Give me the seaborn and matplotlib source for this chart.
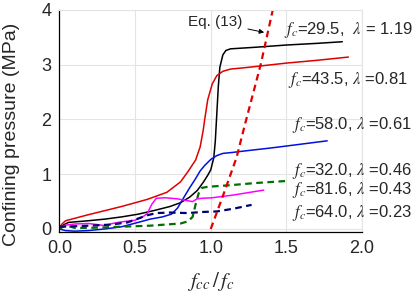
import pandas as pd
import matplotlib
matplotlib.use("Agg")
import matplotlib.pyplot as plt
from matplotlib.ticker import MultipleLocator, AutoMinorLocator, FormatStrFormatter
import seaborn as sns

# data (x = fcc/fc, y = confining pressure in MPa)
x_295 = [0, 0.03, 0.06, 0.19, 0.30, 0.41, 0.52, 0.63, 0.73, 0.80, 0.86, 0.91, 0.95, 0.98, 1.00,
         1.02, 1.03, 1.04, 1.05, 1.06, 1.08, 1.10, 1.13, 1.30, 1.50, 1.70, 1.87]
y_295 = [0.00, 0.08, 0.12, 0.15, 0.18, 0.22, 0.27, 0.34, 0.41, 0.48, 0.58, 0.70, 0.85, 0.98, 1.08,
         1.30, 1.60, 2.10, 2.60, 2.95, 3.18, 3.26, 3.29, 3.32, 3.36, 3.39, 3.42]

x_435 = [0, 0.02, 0.04, 0.19, 0.41, 0.58, 0.71, 0.80, 0.85, 0.90, 0.93, 0.95, 0.96, 0.98, 1.01,
         1.04, 1.08, 1.13, 1.24, 1.50, 1.70, 1.91]
y_435 = [0.03, 0.10, 0.15, 0.26, 0.41, 0.54, 0.67, 0.86, 1.05, 1.26, 1.50, 1.80, 2.00, 2.36, 2.65,
         2.80, 2.88, 2.92, 2.95, 3.03, 3.08, 3.14]

x_580 = [0, 0.04, 0.10, 0.19, 0.30, 0.41, 0.52, 0.60, 0.68, 0.74, 0.78, 0.81, 0.86, 0.90, 0.93,
         0.96, 1.00, 1.04, 1.08, 1.15, 1.24, 1.40, 1.60, 1.77]
y_580 = [0.00, -0.03, -0.04, -0.03, 0.00, 0.04, 0.12, 0.18, 0.22, 0.27, 0.38, 0.52, 0.75, 0.92, 1.06,
         1.16, 1.27, 1.34, 1.38, 1.40, 1.43, 1.48, 1.55, 1.61]

x_816 = [0, 0.04, 0.10, 0.19, 0.25, 0.30, 0.35, 0.41, 0.50, 0.55, 0.58, 0.61, 0.64, 0.70, 0.78,
         0.84, 0.88, 0.91, 0.94, 1.01, 1.15, 1.35]
y_816 = [0.02, 0.07, 0.09, 0.10, 0.08, 0.06, 0.10, 0.13, 0.16, 0.22, 0.28, 0.45, 0.56, 0.57, 0.55,
         0.52, 0.50, 0.55, 0.56, 0.57, 0.62, 0.71]

x_320 = [0, 0.04, 0.10, 0.20, 0.40, 0.60, 0.80, 0.85, 0.88, 0.90, 0.92, 0.94, 0.98, 1.13, 1.30, 1.52]
y_320 = [0.00, 0.07, 0.02, 0.02, 0.04, 0.06, 0.10, 0.14, 0.22, 0.45, 0.65, 0.75, 0.77, 0.80, 0.84, 0.88]

x_640 = [0, 0.10, 0.20, 0.34, 0.45, 0.50, 0.58, 0.64, 0.73, 0.85, 0.94, 1.04, 1.15, 1.27]
y_640 = [0.04, 0.05, 0.06, 0.08, 0.12, 0.17, 0.25, 0.29, 0.30, 0.29, 0.31, 0.32, 0.37, 0.44]

x_eq = [1.00, 1.08, 1.17, 1.23, 1.33, 1.41]
y_eq = [0.00, 0.60, 1.30, 1.95, 3.00, 4.00]

labels = [r"$f_c$=29.5,  $\lambda$ = 1.19", r"$f_c$=43.5, $\lambda$ =0.81",
          r"$f_c$=58.0, $\lambda$ =0.61", r"$f_c$=32.0, $\lambda$ =0.46",
          r"$f_c$=81.6, $\lambda$ =0.43", r"$f_c$=64.0, $\lambda$ =0.23"]
label_x = [1.484, 1.51, 1.537, 1.537, 1.537, 1.537]
label_y = [3.63, 2.72, 1.90, 1.05, 0.71, 0.29]

sns.set_style("white")
plt.rcParams["font.family"] = ["Liberation Sans", "DejaVu Sans"]
plt.rcParams["mathtext.fontset"] = "stix"

fig = plt.figure(figsize=(4.14, 2.92), dpi=100)
ax = fig.add_axes([0.1437, 0.2065, 0.7307, 0.7593])

series = [
    (x_295, y_295, "black", "-", 1.1),
    (x_435, y_435, "#e00000", "-", 1.1),
    (x_580, y_580, "#0010e0", "-", 1.1),
    (x_320, y_320, "#007000", "--", 1.6),
    (x_816, y_816, "#ff00ff", "-", 1.1),
    (x_640, y_640, "#000070", "--", 1.6),
    (x_eq, y_eq, "#e00000", "--", 1.6),
]
for xs, ys, col, ls, lw in series:
    df = pd.DataFrame({"x": xs, "y": ys})
    sns.lineplot(data=df, x="x", y="y", sort=False, estimator=None,
                 color=col, linewidth=lw, ax=ax)
    if ls == "--":
        ax.lines[-1].set_dashes((3, 2))

for t, xx, yy in zip(labels, label_x, label_y):
    ax.text(xx, yy, t, fontsize=12, ha="left", va="center", clip_on=False)

ax.annotate("Eq. (13)", xy=(1.371, 3.58), xytext=(1.206, 3.78), fontsize=11,
            ha="right", va="center",
            arrowprops=dict(arrowstyle="-|>", color="black", lw=0.7, mutation_scale=7))

ax.set_xlim(0, 2.0)
ax.set_ylim(-0.05, 4)
ax.xaxis.set_major_locator(MultipleLocator(0.5))
ax.yaxis.set_major_locator(MultipleLocator(1))
ax.xaxis.set_minor_locator(AutoMinorLocator(2))
ax.yaxis.set_minor_locator(AutoMinorLocator(2))
ax.xaxis.set_major_formatter(FormatStrFormatter("%.1f"))
ax.tick_params(which="major", direction="in", length=4, width=0.8, labelsize=13, pad=6)
ax.tick_params(which="minor", direction="in", length=2.5, width=0.8)
ax.tick_params(top=False, right=False, which="both")
ax.grid(True, color="#e4e4e4", lw=0.8)
for s in ["top", "right"]:
    ax.spines[s].set_color("#e4e4e4")
for s in ["left", "bottom"]:
    ax.spines[s].set_color("black")
    ax.spines[s].set_linewidth(0.9)

ax.set_xlabel(r"$f_{cc}\,/\,f_c$", fontsize=15)
ax.set_ylabel("Confining pressure (MPa)", fontsize=14)
ax.xaxis.set_label_coords(0.5, -0.225)
ax.xaxis.label.set_va("center")
ax.yaxis.set_label_coords(-0.157, 0.44)
ax.yaxis.label.set_va("center")

fig.savefig("out.png", dpi=100)
